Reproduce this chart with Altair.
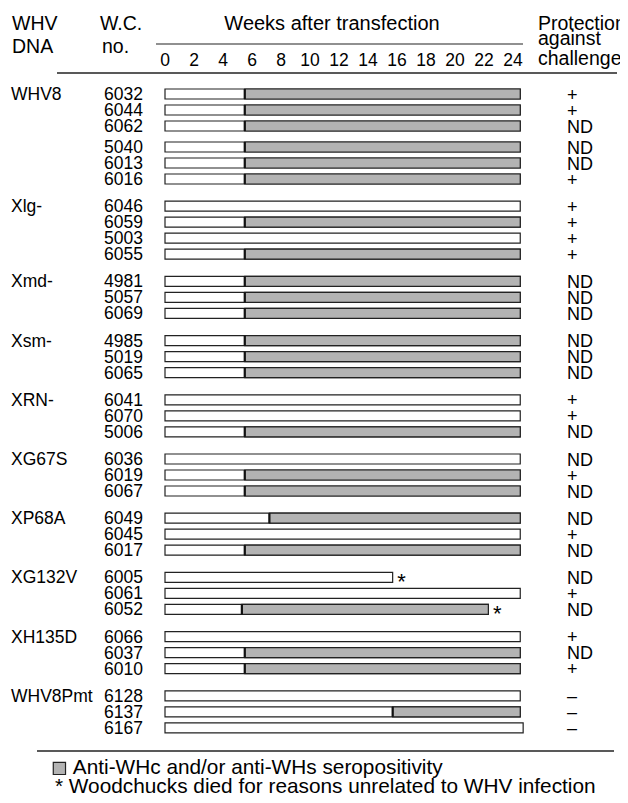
import altair as alt
import pandas as pd

# ---------------- data ----------------
dna_construct = ["WHV8", "WHV8", "WHV8", "WHV8", "WHV8", "WHV8",
                 "Xlg-", "Xlg-", "Xlg-", "Xlg-",
                 "Xmd-", "Xmd-", "Xmd-",
                 "Xsm-", "Xsm-", "Xsm-",
                 "XRN-", "XRN-", "XRN-",
                 "XG67S", "XG67S", "XG67S",
                 "XP68A", "XP68A", "XP68A",
                 "XG132V", "XG132V", "XG132V",
                 "XH135D", "XH135D", "XH135D",
                 "WHV8Pmt", "WHV8Pmt", "WHV8Pmt"]
wc_number = ["6032", "6044", "6062", "5040", "6013", "6016",
             "6046", "6059", "5003", "6055",
             "4981", "5057", "6069",
             "4985", "5019", "6065",
             "6041", "6070", "5006",
             "6036", "6019", "6067",
             "6049", "6045", "6017",
             "6005", "6061", "6052",
             "6066", "6037", "6010",
             "6128", "6137", "6167"]
# week at which anti-WHc/anti-WHs seropositivity begins (None = never)
sero_onset = [5.5, 5.5, 5.5, 5.5, 5.5, 5.5,
              None, 5.5, None, 5.5,
              5.5, 5.5, 5.5,
              5.5, 5.5, 5.5,
              None, None, 5.5,
              None, 5.5, 5.5,
              7.2, None, 5.5,
              None, None, 5.3,
              None, 5.5, 5.5,
              None, 15.7, None]
# last week of follow-up
followup_end = [24.5, 24.5, 24.5, 24.5, 24.5, 24.5,
                24.5, 24.5, 24.5, 24.5,
                24.5, 24.5, 24.5,
                24.5, 24.5, 24.5,
                24.5, 24.5, 24.5,
                24.5, 24.5, 24.5,
                24.5, 24.5, 24.5,
                15.7, 24.5, 22.3,
                24.5, 24.5, 24.5,
                24.5, 24.5, 24.7]
died_unrelated = [False, False, False, False, False, False,
                  False, False, False, False,
                  False, False, False,
                  False, False, False,
                  False, False, False,
                  False, False, False,
                  False, False, False,
                  True, False, True,
                  False, False, False,
                  False, False, False]
protection = ["+", "+", "ND", "ND", "ND", "+",
              "+", "+", "+", "+",
              "ND", "ND", "ND",
              "ND", "ND", "ND",
              "+", "+", "ND",
              "ND", "+", "ND",
              "ND", "+", "ND",
              "ND", "+", "ND",
              "+", "ND", "+",
              "–", "–", "–"]
week_ticks = [0, 2, 4, 6, 8, 10, 12, 14, 16, 18, 20, 22, 24]
legend_label = "Anti-WHc and/or anti-WHs seropositivity"
footnote = "* Woodchucks died for reasons unrelated to WHV infection"

# ---------------- layout (pixels) ----------------
W, H = 612, 787
ROW = 16.0
GROUP_GAP = 11.2 / ROW
SUB_GAP = 5.0 / ROW
SUB_BREAKS = {"5040"}
X0, PX_PER_WEEK = 157.0, 14.5
Y0 = 86.0
FONT = "Liberation Sans, Arial, Helvetica, sans-serif"

recs = []
gap = 0.0
for i, (g, w) in enumerate(zip(dna_construct, wc_number)):
    first = i == 0 or g != dna_construct[i - 1]
    if i > 0 and first:
        gap += GROUP_GAP
    elif w in SUB_BREAKS:
        gap += SUB_GAP
    pos = i + gap
    recs.append(dict(
        group=g if first else "", wc=w, start=0.0, sero=sero_onset[i],
        end=followup_end[i], died=died_unrelated[i], prot=protection[i],
        pos=pos, top=pos - 5.0 / ROW, bot=pos + 5.0 / ROW,
        status=legend_label))
df = pd.DataFrame(recs)
ticks = pd.DataFrame({"week": week_ticks, "lab": [str(t) for t in week_ticks]})

xs = alt.Scale(domain=[-X0 / PX_PER_WEEK, (W - X0) / PX_PER_WEEK], nice=False, zero=False)
ys = alt.Scale(domain=[-Y0 / ROW, (H - Y0) / ROW], reverse=True, nice=False, zero=False)

base = alt.Chart(df)

white = base.mark_rect(fill="white", stroke="#222222", strokeWidth=1.2).encode(
    x=alt.X("start:Q", scale=xs, axis=None), x2="end:Q",
    y=alt.Y("top:Q", scale=ys, axis=None), y2="bot:Q")

gray = base.transform_filter("datum.sero != null").mark_rect(
    stroke="#222222", strokeWidth=1.2).encode(
    x=alt.X("sero:Q", scale=xs, axis=None), x2="end:Q",
    y=alt.Y("top:Q", scale=ys, axis=None), y2="bot:Q",
    fill=alt.Fill("status:N", scale=alt.Scale(range=["#b3b3b3"]),
                  legend=alt.Legend(title=None, orient="none", legendX=41, legendY=750,
                                    symbolType="square", symbolSize=150,
                                    symbolStrokeColor="#222222", symbolStrokeWidth=1.2,
                                    symbolOpacity=1, labelFont=FONT, labelFontSize=20.8,
                                    labelColor="black", labelOffset=3, labelLimit=0,
                                    padding=0)))

divider = base.transform_filter("datum.sero != null").mark_rule(
    color="#111111", strokeWidth=2.2).encode(
    x=alt.X("sero:Q", scale=xs, axis=None),
    y=alt.Y("top:Q", scale=ys, axis=None), y2="bot:Q")

txt = dict(font=FONT, color="black", baseline="alphabetic")

wc_text = base.mark_text(align="right", fontSize=17.5, dy=6, **txt).encode(
    x=alt.value(135), y=alt.Y("pos:Q", scale=ys, axis=None), text="wc:N")
grp_text = base.mark_text(align="left", fontSize=17.5, dy=6, **txt).encode(
    x=alt.value(3), y=alt.Y("pos:Q", scale=ys, axis=None), text="group:N")
prot_text = base.mark_text(align="left", fontSize=18, dy=6.5, **txt).encode(
    x=alt.value(559), y=alt.Y("pos:Q", scale=ys, axis=None), text="prot:N")
star = base.transform_filter("datum.died").mark_text(
    align="center", fontSize=22, dx=9, dy=12, text="*", font=FONT, color="black",
    baseline="alphabetic").encode(
    x=alt.X("end:Q", scale=xs, axis=None), y=alt.Y("pos:Q", scale=ys, axis=None))

tick_text = alt.Chart(ticks).mark_text(align="center", fontSize=17.5, **txt).encode(
    x=alt.X("week:Q", scale=xs, axis=None), y=alt.value(58), text="lab:N")

one = pd.DataFrame({"k": [0]})


def label(text, x, y, size, align="left"):
    return alt.Chart(one).mark_text(text=text, align=align, fontSize=size, **txt).encode(
        x=alt.value(x), y=alt.value(y))


def hline(x1, x2, y, w=1.3):
    return alt.Chart(one).mark_rule(color="#222222", strokeWidth=w).encode(
        x=alt.value(x1), x2=alt.value(x2), y=alt.value(y))


headers = [
    label("WHV", 4, 22, 19.5), label("DNA", 4, 45, 19.5),
    label("W.C.", 92, 22, 19.5), label("no.", 94, 45, 19.5),
    label("Weeks after transfection", 324, 22, 20, "center"),
    label("Protection", 530, 22, 19.5), label("against", 530, 37, 19.5),
    label("challenge", 530, 57, 19.5),
    hline(148, 515, 36, 1.2), hline(49, 609, 65, 1.5), hline(29, 606, 743, 1.5),
    label(footnote, 47, 785, 20.8),
]

chart = alt.layer(white, gray, divider, wc_text, grp_text, prot_text, star, tick_text,
                  *headers).properties(
    width=W, height=H, padding=0, autosize="none").configure_view(stroke=None)

chart.save("out.html", embed_options={"renderer": "svg", "actions": False})
